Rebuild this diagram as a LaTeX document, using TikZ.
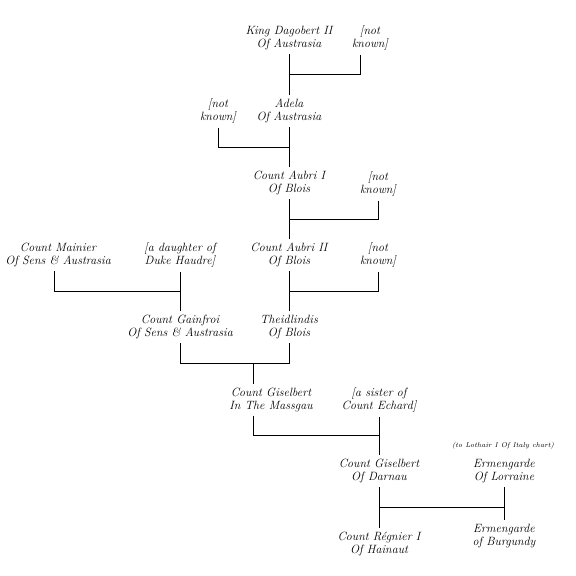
\documentclass[tikz,border=0pt]{standalone}
\usepackage{tikz}
\usetikzlibrary{calc}
\tikzset{
  person/.style={align=center,font=\fontsize{12}{13.5}\selectfont\itshape,inner sep=0pt,outer sep=4pt},
  note/.style={font=\fontsize{7}{8}\selectfont\itshape,inner sep=0pt},
  link/.style={line width=0.9pt}
}
\begin{document}
\begin{tikzpicture}[x=1pt,y=-1pt]
\useasboundingbox (0,0) rectangle (576,576);
\node[person] (dagobert) at (289,38) {King Dagobert II\\Of Austrasia};
\node[person] (nkA) at (370,38) {[not\\known]};
\node[person] (nkB) at (218,111) {[not\\known]};
\node[person] (adela) at (289,111) {Adela\\Of Austrasia};
\node[person] (aubriA) at (289,183) {Count Aubri I\\Of Blois};
\node[person] (nkC) at (378,184) {[not\\known]};
\node[person] (mainier) at (58,255) {Count Mainier\\Of Sens \& Austrasia};
\node[person] (daughter) at (180,255) {[a daughter of\\Duke Haudre]};
\node[person] (aubriB) at (289,255) {Count Aubri II\\Of Blois};
\node[person] (nkD) at (378,255) {[not\\known]};
\node[person] (gainfroi) at (180,327) {Count Gainfroi\\Of Sens \& Austrasia};
\node[person] (theidlindis) at (289,327) {Theidlindis\\Of Blois};
\node[person] (giselbertA) at (271,400) {Count Giselbert\\In The Massgau};
\node[person] (sister) at (379,400) {[a sister of\\Count Echard]};
\node[note] (lothair) at (503,446) {(to Lothair I Of Italy chart)};
\node[person] (giselbertB) at (379,471) {Count Giselbert\\Of Darnau};
\node[person] (ermLorraine) at (504,471) {Ermengarde\\Of Lorraine};
\node[person] (regnier) at (379,544) {Count Régnier I\\Of Hainaut};
\node[person] (ermBurgundy) at (504,536) {Ermengarde\\of Burgundy};

\coordinate (j1) at ($(dagobert.south)!.5!(adela.north)$);
\coordinate (j2) at ($(adela.south)!.5!(aubriA.north)$);
\coordinate (j3) at ($(aubriA.south)!.5!(aubriB.north)$);
\coordinate (j4) at ($(aubriB.south)!.5!(theidlindis.north)$);
\coordinate (j5) at ($(theidlindis.south)!.5!(giselbertA.north)$);
\coordinate (j6) at ($(sister.south)!.5!(giselbertB.north)$);
\coordinate (j7) at ($(giselbertB.south)!.5!(regnier.north)$);

\draw[link] (dagobert) -- (adela);
\draw[link] ([xshift=-10pt]nkA.south) |- (j1);
\draw[link] (adela) -- (aubriA);
\draw[link] (nkB.south) |- (j2);
\draw[link] (aubriA) -- (aubriB);
\draw[link] (nkC.south) |- (j3);
\draw[link] (aubriB) -- (theidlindis);
\draw[link] (nkD.south) |- (j4);
\draw[link] (daughter) -- (gainfroi);
\draw[link] ([xshift=-4pt]mainier.south) |- (j4 -| daughter);
\draw[link] (gainfroi.south) |- (j5) -| (theidlindis.south);
\draw[link] ([xshift=-18pt]giselbertA.north) -- ([xshift=-18pt]giselbertA.north |- j5);
\draw[link] (sister) -- (giselbertB);
\draw[link] ([xshift=-18pt]giselbertA.south) |- (j6);
\draw[link] (giselbertB) -- (regnier);
\draw[link] (ermLorraine) -- (ermBurgundy);
\draw[link] (j7) -- (j7 -| ermLorraine);
\end{tikzpicture}
\end{document}
